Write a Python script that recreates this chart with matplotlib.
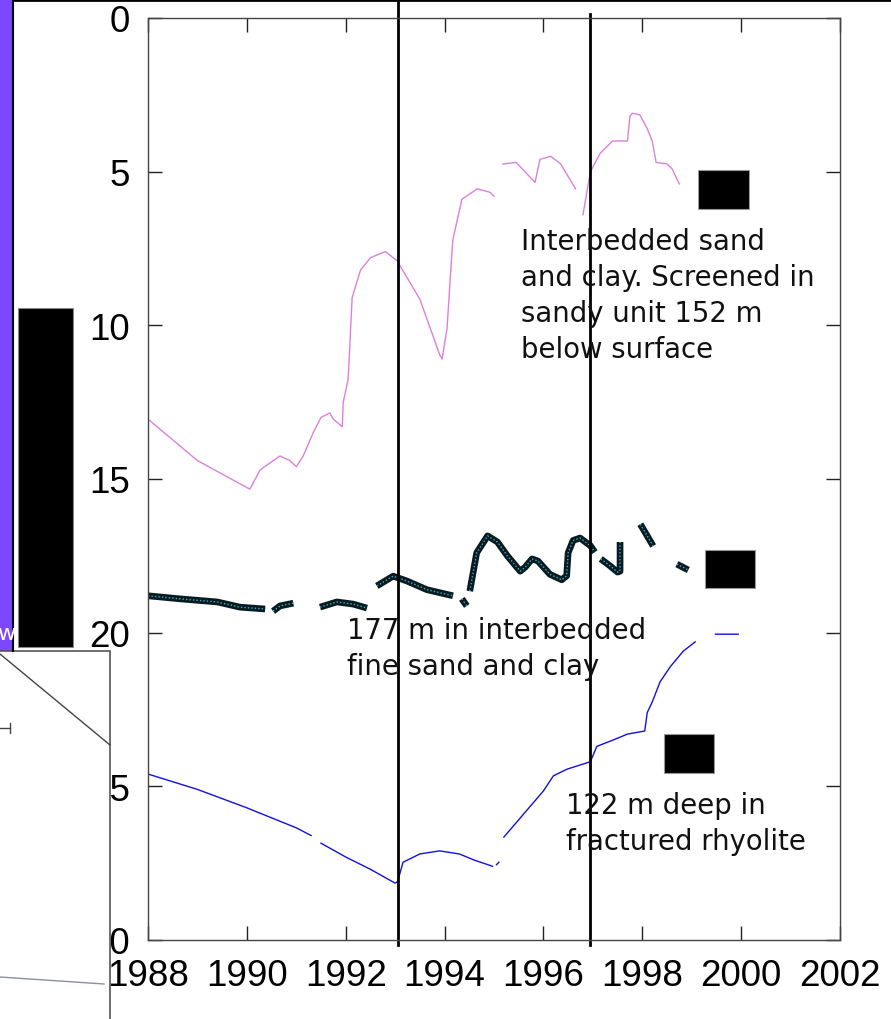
import numpy as np
import matplotlib
matplotlib.use("Agg")
import matplotlib.pyplot as plt
from matplotlib.patches import Rectangle

nan = np.nan

# well 1: interbedded sand and clay (152 m)
pink_x = [1988.0, 1989.0, 1990.06, 1990.27, 1990.67, 1990.87, 1991.0, 1991.14, 1991.34, 1991.5,
          1991.68, 1991.75, 1991.93, 1991.95, 1992.05, 1992.13, 1992.3, 1992.5, 1992.8, 1993.04,
          1993.5, 1993.9, 1993.95, 1994.05, 1994.15, 1994.17, 1994.35, 1994.66, 1994.92, 1995.0, nan,
          1995.18, 1995.45, 1995.83, 1995.93, 1996.15, 1996.35, 1996.65, nan,
          1996.8, 1996.95, 1997.15, 1997.4, 1997.7, 1997.75, 1997.8, 1997.95, 1998.1, 1998.2,
          1998.28, 1998.5, 1998.6, 1998.75]
pink_y = [13.05, 14.4, 15.33, 14.7, 14.25, 14.4, 14.6, 14.25, 13.5, 13.0,
          12.85, 13.05, 13.3, 12.5, 11.75, 9.1, 8.2, 7.8, 7.6, 7.9,
          9.15, 10.95, 11.1, 10.1, 7.6, 7.2, 5.9, 5.56, 5.67, 5.8, nan,
          4.75, 4.7, 5.35, 4.6, 4.5, 4.75, 5.56, nan,
          6.4, 5.0, 4.4, 4.0, 4.0, 3.2, 3.1, 3.15, 3.6, 4.0,
          4.7, 4.75, 4.9, 5.4]

# well 2: interbedded fine sand and clay (177 m)
teal_x = [1988.0, 1988.65, 1989.4, 1989.86, 1990.37, nan, 1990.53, 1990.67, 1990.94, nan,
          1991.48, 1991.82, 1992.15, 1992.43, nan,
          1992.63, 1992.96, 1993.24, 1993.64, 1994.17, nan,
          1994.35, 1994.45, nan,
          1994.51, 1994.65, 1994.87, 1995.07, 1995.27, 1995.53, 1995.63, 1995.77, 1995.89, 1996.13,
          1996.37, 1996.47, 1996.5, 1996.6, 1996.74, 1996.95, 1997.04, nan,
          1997.16, 1997.35, 1997.5, 1997.55, 1997.55, nan,
          1997.96, 1998.22, nan, 1998.7, 1998.93]
teal_y = [18.8, 18.9, 19.0, 19.17, 19.23, nan, 19.3, 19.13, 19.04, nan,
          19.17, 19.0, 19.07, 19.2, nan,
          18.48, 18.16, 18.32, 18.6, 18.8, nan,
          18.9, 19.13, nan,
          18.65, 17.4, 16.85, 17.05, 17.5, 18.0, 17.87, 17.6, 17.67, 18.1,
          18.28, 18.15, 17.4, 17.0, 16.92, 17.17, 17.38, nan,
          17.6, 17.83, 18.03, 18.0, 17.05, nan,
          16.47, 17.18, nan, 17.77, 17.96]

# well 3: fractured rhyolite (122 m)
blue_x = [1988.0, 1989.0, 1990.0, 1991.0, 1991.3, nan, 1991.5, 1992.0, 1992.5, 1993.0, 1993.05,
          1993.16, 1993.5, 1993.9, 1994.3, 1994.6, 1994.97, nan, 1995.05, 1995.1, nan,
          1995.2, 1995.6, 1996.0, 1996.2, 1996.48, 1996.95, 1997.08, 1997.4, 1997.7,
          1998.05, 1998.1, 1998.2, 1998.36, 1998.57, 1998.83, 1999.07, nan, 1999.48, 1999.94]
blue_y = [24.6, 25.1, 25.7, 26.35, 26.6, nan, 26.85, 27.3, 27.7, 28.15, 28.1,
          27.47, 27.2, 27.1, 27.2, 27.4, 27.6, nan, 27.55, 27.47, nan,
          26.65, 25.9, 25.15, 24.66, 24.44, 24.2, 23.7, 23.5, 23.3,
          23.2, 22.6, 22.26, 21.6, 21.1, 20.6, 20.3, nan, 20.05, 20.05]

event_years = [1993.05, 1996.95]
x_ticks = list(range(1988, 2003, 2))
y_ticks = list(range(0, 31, 5))

labels = ["Interbedded sand\nand clay. Screened in\nsandy unit 152 m\nbelow surface",
          "177 m in interbedded\nfine sand and clay",
          "122 m deep in\nfractured rhyolite"]

fig = plt.figure(figsize=(8.91, 10.2), dpi=100)
ax = fig.add_axes([148/891, 79/1020, 692/891, 922/1020])
ax.set_zorder(1)

ax.plot(pink_x, pink_y, color="#dd80dd", lw=1.0)
ax.plot(teal_x, teal_y, color="#0a1a1e", lw=4.8, solid_capstyle="butt")
ax.plot(teal_x, teal_y, color="#22b8d8", lw=1.0, ls=(0, (1, 1.5)))
ax.plot(blue_x, blue_y, color="#1010e0", lw=1.0)

ax.axvline(event_years[0], ymin=-0.005, ymax=1.021, color="black", lw=2, clip_on=False)
ax.axvline(event_years[1], ymin=-0.005, ymax=1.004, color="black", lw=2, clip_on=False)

for (x0, y0) in [(1999.13, 4.95), (1999.27, 17.3), (1998.43, 23.3)]:
    ax.add_patch(Rectangle((x0, y0), 1.02, 1.25, facecolor="black", edgecolor="#999999", lw=0.8))

ax.set_xlim(1988, 2002)
ax.set_ylim(30, 0)
ax.set_xticks(x_ticks)
ax.set_yticks(y_ticks)
ax.tick_params(direction="in", length=10, width=1, top=True, right=True,
               labelsize=26.5, pad=13, color="#222222")
for lab in ax.get_xticklabels() + ax.get_yticklabels():
    lab.set_family("Liberation Sans")
for s in ax.spines.values():
    s.set_color("#444444")
    s.set_linewidth(1.0)

# overlay in pixel coordinates
ov = fig.add_axes([0, 0, 1, 1])
ov.set_zorder(5)
ov.set_xlim(0, 891)
ov.set_ylim(1020, 0)
ov.axis("off")
ov.patch.set_alpha(0)

ov.add_patch(Rectangle((0, 0), 13, 652, facecolor="#7b47ff", edgecolor="none"))
ov.plot([13, 13], [0, 652], color="black", lw=1.5)
ov.plot([13, 891], [1, 1], color="black", lw=2)
ov.text(-3, 634, "w", color="white", fontsize=16, va="center", ha="left")
ov.add_patch(Rectangle((18, 309), 55, 339, facecolor="black", edgecolor="#888888", lw=0.8))

ov.add_patch(Rectangle((-5, 652), 115, 380, facecolor="white", edgecolor="#555555", lw=1.2))
ov.plot([0, 110], [655, 746], color="#444444", lw=1)
ov.plot([0, 10], [729, 729], color="#444444", lw=1)
ov.plot([10, 10], [724, 734], color="#444444", lw=1)
ov.plot([0, 104], [978, 985], color="#8890a0", lw=1)

for txt, (px, py) in zip(labels, [(521, 228), (347, 617), (566, 792)]):
    ov.text(px, py, txt, fontsize=19.8, va="top", ha="left", linespacing=1.37,
            family="DejaVu Sans", color="#111111")

fig.savefig("out.png", dpi=100)
